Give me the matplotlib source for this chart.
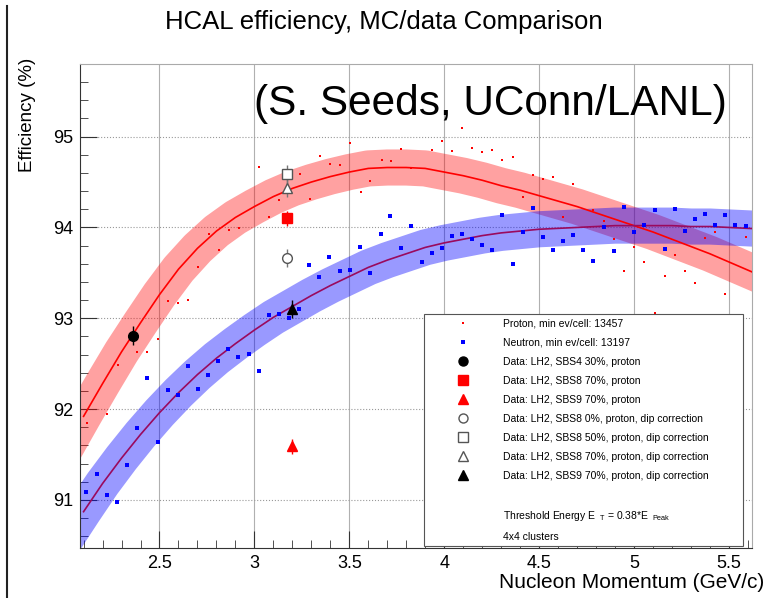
import matplotlib
matplotlib.use("Agg")
import matplotlib.pyplot as plt
import numpy as np
from matplotlib.lines import Line2D
from matplotlib.ticker import MultipleLocator, FuncFormatter

plt.rcParams["font.family"] = ["Liberation Sans", "DejaVu Sans"]
plt.rcParams["mathtext.default"] = "regular"

# MC points, proton (red) and neutron (blue)
p_x = [2.118, 2.225, 2.281, 2.383, 2.436, 2.492, 2.545, 2.598, 2.651, 2.705,
       2.760, 2.814, 2.867, 2.920, 3.025, 3.078, 3.131, 3.240, 3.293, 3.346,
       3.399, 3.451, 3.504, 3.560, 3.609, 3.671, 3.720, 3.771, 3.824, 3.935,
       3.988, 4.041, 4.093, 4.146, 4.199, 4.252, 4.304, 4.363, 4.415, 4.468,
       4.521, 4.574, 4.626, 4.679, 4.785, 4.841, 4.893, 4.946, 4.999, 5.052,
       5.110, 5.163, 5.215, 5.268, 5.321, 5.374, 5.426, 5.479, 5.588]
p_y = [91.85, 91.95, 92.49, 92.63, 92.63, 92.77, 93.19, 93.17, 93.20, 93.56,
       93.93, 93.75, 93.97, 93.99, 94.67, 94.12, 94.30, 94.59, 94.31, 94.79,
       94.70, 94.69, 94.93, 94.39, 94.51, 94.74, 94.73, 94.86, 94.65, 94.85,
       94.95, 94.84, 95.10, 94.88, 94.83, 94.85, 94.74, 94.78, 94.33, 94.58,
       94.53, 94.56, 94.12, 94.48, 94.19, 94.07, 93.87, 93.52, 93.78, 93.62,
       93.06, 93.46, 93.70, 93.52, 93.39, 93.88, 93.95, 93.27, 93.89]

n_x = [2.114, 2.169, 2.223, 2.276, 2.329, 2.384, 2.434, 2.492, 2.544, 2.596,
       2.649, 2.703, 2.756, 2.809, 2.862, 2.915, 2.971, 3.024, 3.077, 3.129,
       3.184, 3.236, 3.289, 3.342, 3.395, 3.451, 3.504, 3.557, 3.609, 3.666,
       3.715, 3.771, 3.824, 3.882, 3.935, 3.988, 4.041, 4.093, 4.146, 4.199,
       4.252, 4.304, 4.363, 4.415, 4.468, 4.521, 4.574, 4.626, 4.679, 4.732,
       4.785, 4.841, 4.893, 4.946, 4.999, 5.052, 5.110, 5.163, 5.215, 5.268,
       5.321, 5.374, 5.426, 5.479, 5.532, 5.588]
n_y = [91.09, 91.28, 91.05, 90.98, 91.38, 91.79, 92.34, 91.64, 92.21, 92.15,
       92.47, 92.22, 92.38, 92.53, 92.66, 92.57, 92.61, 92.42, 93.04, 93.05,
       93.00, 93.10, 93.59, 93.45, 93.68, 93.52, 93.53, 93.78, 93.50, 93.93,
       94.13, 93.77, 94.02, 93.62, 93.72, 93.77, 93.91, 93.93, 93.87, 93.81,
       93.75, 94.14, 93.60, 93.95, 94.21, 93.89, 93.75, 93.85, 93.92, 93.75,
       93.63, 94.00, 93.74, 94.23, 93.95, 94.03, 94.19, 93.76, 94.20, 93.96,
       94.09, 94.15, 94.03, 94.14, 94.03, 94.02]

# fit curves; the bands follow the same curves
fit_x = [2.0, 2.1, 2.2, 2.3, 2.4, 2.5, 2.6, 2.7, 2.8, 2.9,
         3.0, 3.1, 3.2, 3.3, 3.4, 3.5, 3.6, 3.7, 3.8, 3.9,
         4.0, 4.1, 4.2, 4.3, 4.4, 4.5, 4.6, 4.7, 4.8, 4.9,
         5.0, 5.1, 5.2, 5.3, 5.4, 5.5, 5.6, 5.7]
fit_p = [91.55, 91.92, 92.28, 92.63, 92.95, 93.26, 93.54, 93.77, 93.96, 94.11,
         94.23, 94.34, 94.43, 94.50, 94.56, 94.61, 94.65, 94.66, 94.66, 94.65,
         94.61, 94.57, 94.52, 94.46, 94.41, 94.35, 94.29, 94.23, 94.16, 94.09,
         94.02, 93.95, 93.87, 93.79, 93.71, 93.62, 93.53, 93.44]
fit_n = [90.55, 90.87, 91.18, 91.46, 91.72, 91.96, 92.18, 92.38, 92.56, 92.72,
         92.87, 93.01, 93.13, 93.25, 93.36, 93.46, 93.56, 93.64, 93.71, 93.78,
         93.83, 93.87, 93.91, 93.94, 93.96, 93.98, 93.99, 94.00, 94.01, 94.02,
         94.02, 94.02, 94.02, 94.01, 94.01, 94.00, 93.99, 93.98]

# measured data points
data_labels = ["Data: LH2, SBS4 30%, proton",
               "Data: LH2, SBS8 70%, proton",
               "Data: LH2, SBS9 70%, proton",
               "Data: LH2, SBS8 0%, proton, dip correction",
               "Data: LH2, SBS8 50%, proton, dip correction",
               "Data: LH2, SBS8 70%, proton, dip correction",
               "Data: LH2, SBS9 70%, proton, dip correction"]
data_x = [2.36, 3.17, 3.20, 3.17, 3.17, 3.17, 3.196]
data_y = [92.81, 94.10, 91.59, 93.66, 94.59, 94.43, 93.10]
data_err = [0.10, 0.08, 0.08, 0.10, 0.10, 0.10, 0.10]

markers = ["o", "s", "^", "o", "s", "^", "^"]
face = ["black", "red", "red", "white", "white", "white", "black"]
edge = ["black", "red", "red", "#555555", "#555555", "#555555", "black"]
ecol = ["black", "red", "red", "#777777", "#777777", "#777777", "black"]

fig = plt.figure(figsize=(7.67, 5.98), dpi=100)
ax = fig.add_axes([0.104, 0.0836, 0.876, 0.8094])
ax.set_xlim(2.08, 5.62)
ax.set_ylim(90.47, 95.80)

fx = np.array(fit_x)
ax.plot(fit_x, fit_p, color="red", alpha=0.37, lw=26, solid_capstyle="butt",
        solid_joinstyle="round", zorder=2)
ax.plot(fit_x, fit_n, color="blue", alpha=0.40, lw=26, solid_capstyle="butt",
        solid_joinstyle="round", zorder=2)
m = fx >= 2.1
ax.plot(fx[m], np.array(fit_p)[m], color="red", lw=1.2, zorder=3)
ax.plot(fx[m], np.array(fit_n)[m], color="#9a0a5e", lw=1.2, zorder=3)

ax.plot(p_x, p_y, ls="none", marker="s", ms=2, color="red", mew=0, zorder=4)
ax.plot(n_x, n_y, ls="none", marker="s", ms=3.2, color="blue", mew=0, zorder=4)

for i in range(len(data_x)):
    ax.errorbar(data_x[i], data_y[i], yerr=data_err[i], fmt=markers[i],
                ms=7 if markers[i] != "s" else 6.5, mfc=face[i], mec=edge[i],
                ecolor=ecol[i], elinewidth=1, capsize=0, zorder=5)

ax.xaxis.set_major_locator(MultipleLocator(0.5))
ax.xaxis.set_minor_locator(MultipleLocator(0.1))
ax.yaxis.set_major_locator(MultipleLocator(1))
ax.yaxis.set_minor_locator(MultipleLocator(0.2))
ax.tick_params(which="both", direction="in", top=False, right=False, color="#333")
ax.tick_params(which="major", length=12, labelsize=13, pad=5)
ax.tick_params(which="minor", length=6)
ax.xaxis.set_major_formatter(FuncFormatter(lambda v, p: f"{v:g}"))
ax.grid(axis="x", color="#b0b0b0", lw=0.8, ls="-", zorder=0)
ax.grid(axis="y", color="#999999", lw=0.8, ls=":", zorder=0)
for s in ["left", "bottom"]:
    ax.spines[s].set_color("#333")
for s in ["top", "right"]:
    ax.spines[s].set_color("#aaaaaa")

ax.text(4.245, 95.36, "(S. Seeds, UConn/LANL)", fontsize=30.5, ha="center",
        va="center", zorder=6)

# legend
handles = [Line2D([], [], ls="none", marker="s", ms=2, color="red", mew=0),
           Line2D([], [], ls="none", marker="s", ms=3, color="blue", mew=0)]
labels = ["Proton, min ev/cell: 13457", "Neutron, min ev/cell: 13197"]
for i in range(len(data_labels)):
    handles.append(Line2D([], [], ls="none", marker=markers[i], ms=6.5,
                          mfc=face[i], mec=edge[i]))
    labels.append(data_labels[i])
handles += [Line2D([], [], ls="none")] * 3
labels += [" ", r"Threshold Energy E$_{\ \ T}$ = 0.38*E$_{\ \ Peak}$", "4x4 clusters"]
leg = ax.legend(handles, labels, loc="upper left",
                bbox_to_anchor=(0.512, 0.010, 0.475, 0.473), mode="expand",
                fontsize=7.5, labelspacing=0.87, handlelength=6.7,
                handletextpad=0.5, borderaxespad=0, borderpad=0.4, fancybox=False,
                framealpha=1, edgecolor="#555")
leg.get_frame().set_linewidth(0.8)
leg.set_zorder(7)

fig.text(0.5, 1 - 22 / 598, "HCAL efficiency, MC/data Comparison", fontsize=18.5,
         ha="center", va="center")
fig.text(28 / 767, 1 - 58 / 598, "Efficiency (%)", rotation=90, fontsize=13.5,
         ha="center", va="top")
fig.text(764 / 767, 1 - 582 / 598, "Nucleon Momentum (GeV/c)", fontsize=15,
         ha="right", va="center")
fig.add_artist(Line2D([0.009, 0.009], [0, 0.99], transform=fig.transFigure,
                      color="#222", lw=1.5))

fig.savefig("out.png", dpi=100, facecolor="white")
